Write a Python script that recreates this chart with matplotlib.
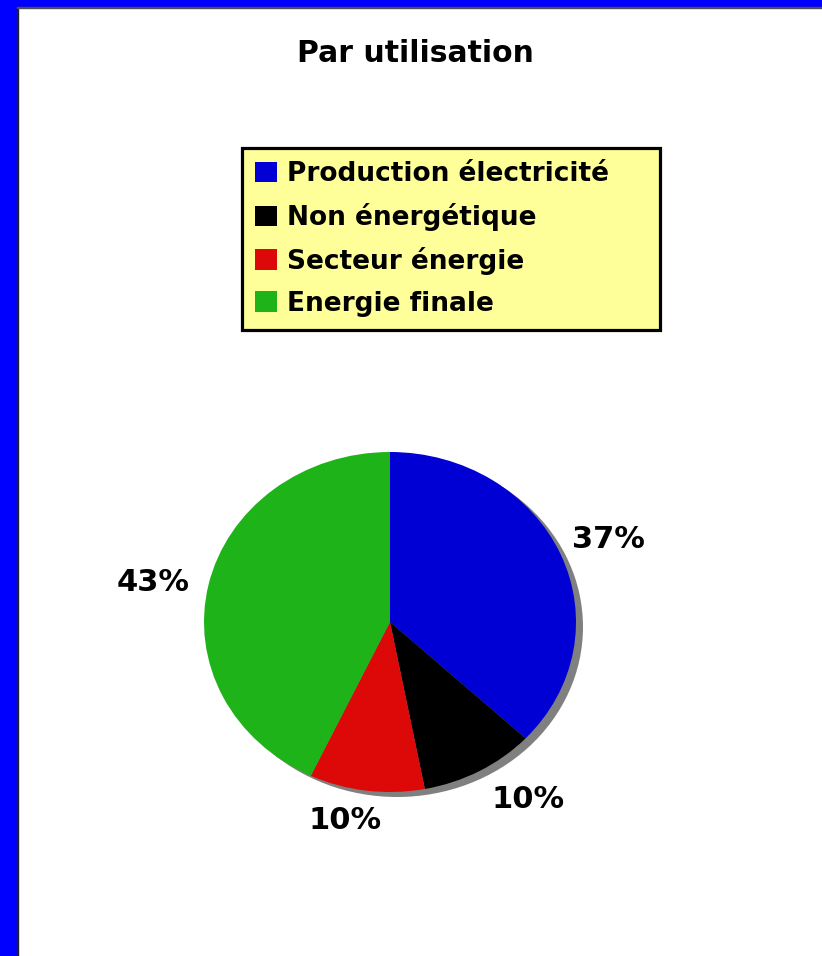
import matplotlib
matplotlib.use("Agg")
import matplotlib.pyplot as plt
from matplotlib.patches import Rectangle, Ellipse
from matplotlib.transforms import ScaledTranslation

# ---- data ----
title = "Par utilisation"
categories = ["Production électricité", "Non énergétique", "Secteur énergie", "Energie finale"]
values = [37, 10, 10, 43]
colors = ["#0000D4", "#000000", "#DD0808", "#1FB31A"]

W, H = 822, 956
fig = plt.figure(figsize=(W / 100, H / 100), dpi=100)
fig.patch.set_facecolor("white")

def fx(px):
    return px / W

def fy(py):
    return 1 - py / H

# frame borders
fig.patches.append(Rectangle((0, 0), fx(17), 1, transform=fig.transFigure, color="#0000FF", zorder=0))
fig.patches.append(Rectangle((0, fy(7)), 1, 7 / H, transform=fig.transFigure, color="#0000FF", zorder=0))
fig.patches.append(Rectangle((fx(17), 0), 1.2 / W, fy(7), transform=fig.transFigure, color="#202020", zorder=0))
fig.patches.append(Rectangle((fx(17), fy(8)), 1, 1.2 / H, transform=fig.transFigure, color="#505050", zorder=0))

fig.text(fx(415), fy(53), title, ha="center", va="center", fontsize=21.5,
         fontweight="bold", family="DejaVu Sans")

# pie axes: ellipse rx=186, ry=170, center (390, 622)
rx, ry = 186, 170
cx, cy = 390, 622
lim = 1.3
ax = fig.add_axes([fx(cx - rx * lim), (H - cy - ry * lim) / H, 2 * rx * lim / W, 2 * ry * lim / H])
ax.set_xlim(-lim, lim)
ax.set_ylim(-lim, lim)

# shadow
ax.add_patch(Ellipse((7 / rx, -5 / ry), 2, 2, facecolor="#808080", edgecolor="none", zorder=0))

labels_pct = [f"{v}%" for v in values]
wedges, texts = ax.pie(values, colors=colors, startangle=90, counterclock=False,
                       labels=labels_pct, labeldistance=1.1, radius=1,
                       wedgeprops=dict(linewidth=0, zorder=1),
                       textprops=dict(fontsize=22, fontweight="bold", color="black"),
                       frame=False)
ax.set_aspect("auto")
ax.set_xlim(-lim, lim)
ax.set_ylim(-lim, lim)
ax.axis("off")

# label nudges in pixels (layout only)
nudges = [(-6, 8), (3, -14), (17, -13), (-1, -1)]
for t, (dx, dy) in zip(texts, nudges):
    t.set_transform(ax.transData + ScaledTranslation(dx / 100, dy / 100, fig.dpi_scale_trans))

# legend
leg = fig.legend(wedges, categories, loc="upper left",
                 bbox_to_anchor=(fx(242), fy(330), 418 / W, 182 / H), mode="expand",
                 borderaxespad=0, prop=dict(family="DejaVu Sans", weight="bold", size=19),
                 handlelength=0.83, handleheight=0.83, handletextpad=0.38,
                 labelspacing=0.6, borderpad=0.5, fancybox=False, framealpha=1,
                 facecolor="#FFFF99", edgecolor="black")
leg.get_frame().set_linewidth(2.3)

fig.savefig("out.png", dpi=100, facecolor="white")
